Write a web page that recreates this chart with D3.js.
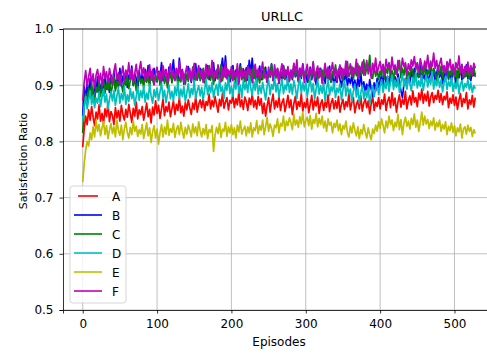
<!DOCTYPE html>
<html>
<head>
<meta charset="utf-8">
<script src="https://cdn.jsdelivr.net/npm/d3@7/dist/d3.min.js"></script>
<style>
  body { margin: 0; background: #fff; }
  svg { display: block; font-family: "DejaVu Sans", sans-serif; }
</style>
</head>
<body>
<div id="chart"></div>
<script>
// episodes are sampled every 2 steps, 0..528
var episodes = d3.range(0, 529, 2);

var seriesNames = ['A', 'B', 'C', 'D', 'E', 'F'];
var seriesColors = ['#ff0000', '#0000ff', '#008000', '#00bfbf', '#bfbf00', '#bf00bf'];

var valuesA = [
    0.790, 0.822, 0.845, 0.830, 0.856, 0.838, 0.862, 0.843, 0.828, 0.852,
    0.840, 0.865, 0.836, 0.850, 0.832, 0.858, 0.844, 0.868, 0.835, 0.853,
    0.846, 0.830, 0.860, 0.842, 0.855, 0.836, 0.864, 0.848, 0.838, 0.857,
    0.843, 0.866, 0.850, 0.834, 0.859, 0.845, 0.870, 0.840, 0.856, 0.848,
    0.862, 0.838, 0.852, 0.868, 0.844, 0.857, 0.833, 0.861, 0.847, 0.872,
    0.850, 0.864, 0.841, 0.858, 0.875, 0.846, 0.862, 0.853, 0.870, 0.844,
    0.858, 0.872, 0.848, 0.866, 0.855, 0.878, 0.851, 0.863, 0.845, 0.869,
    0.856, 0.874, 0.860, 0.848, 0.868, 0.857, 0.880, 0.852, 0.866, 0.874,
    0.860, 0.877, 0.855, 0.871, 0.864, 0.884, 0.858, 0.873, 0.862, 0.880,
    0.866, 0.852, 0.875, 0.863, 0.886, 0.859, 0.870, 0.878, 0.856, 0.873,
    0.868, 0.882, 0.860, 0.876, 0.865, 0.888, 0.862, 0.874, 0.857, 0.879,
    0.871, 0.855, 0.877, 0.866, 0.884, 0.861, 0.873, 0.858, 0.880, 0.864,
    0.876, 0.850, 0.868, 0.845, 0.863, 0.878, 0.852, 0.870, 0.884, 0.858,
    0.872, 0.861, 0.880, 0.855, 0.869, 0.876, 0.853, 0.866, 0.882, 0.860,
    0.874, 0.848, 0.867, 0.880, 0.857, 0.871, 0.862, 0.885, 0.854, 0.869,
    0.860, 0.877, 0.851, 0.866, 0.882, 0.856, 0.872, 0.863, 0.879, 0.850,
    0.867, 0.874, 0.855, 0.870, 0.861, 0.883, 0.853, 0.868, 0.876, 0.858,
    0.872, 0.859, 0.880, 0.852, 0.866, 0.875, 0.857, 0.871, 0.862, 0.885,
    0.856, 0.869, 0.878, 0.851, 0.865, 0.873, 0.858, 0.881, 0.854, 0.868,
    0.876, 0.860, 0.872, 0.849, 0.867, 0.880, 0.855, 0.870, 0.862, 0.878,
    0.858, 0.874, 0.866, 0.884, 0.855, 0.871, 0.879, 0.860, 0.887, 0.864,
    0.877, 0.852, 0.870, 0.883, 0.861, 0.875, 0.866, 0.889, 0.858, 0.873,
    0.881, 0.865, 0.890, 0.870, 0.878, 0.862, 0.886, 0.874, 0.893, 0.868,
    0.884, 0.872, 0.889, 0.863, 0.879, 0.887, 0.869, 0.882, 0.875, 0.891,
    0.870, 0.885, 0.866, 0.880, 0.874, 0.888, 0.860, 0.877, 0.868, 0.883,
    0.864, 0.879, 0.857, 0.873, 0.885, 0.862, 0.876, 0.869, 0.887, 0.858,
    0.874, 0.866, 0.882, 0.861, 0.878
];

var valuesB = [
    0.845, 0.898, 0.872, 0.905, 0.880, 0.912, 0.884, 0.870, 0.902, 0.888,
    0.915, 0.878, 0.896, 0.908, 0.882, 0.920, 0.893, 0.905, 0.887, 0.918,
    0.900, 0.925, 0.894, 0.912, 0.903, 0.930, 0.898, 0.916, 0.908, 0.922,
    0.896, 0.918, 0.910, 0.934, 0.901, 0.920, 0.912, 0.895, 0.926, 0.907,
    0.919, 0.903, 0.928, 0.911, 0.935, 0.902, 0.921, 0.909, 0.930, 0.915,
    0.906, 0.924, 0.913, 0.940, 0.908, 0.919, 0.927, 0.904, 0.932, 0.914,
    0.925, 0.945, 0.910, 0.923, 0.906, 0.948, 0.915, 0.928, 0.902, 0.920,
    0.911, 0.933, 0.918, 0.905, 0.926, 0.914, 0.938, 0.909, 0.922, 0.930,
    0.913, 0.927, 0.904, 0.920, 0.935, 0.910, 0.925, 0.916, 0.940, 0.908,
    0.921, 0.932, 0.912, 0.928, 0.948, 0.918, 0.952, 0.915, 0.926, 0.906,
    0.920, 0.935, 0.911, 0.927, 0.904, 0.922, 0.938, 0.913, 0.929, 0.917,
    0.931, 0.909, 0.944, 0.920, 0.948, 0.912, 0.927, 0.903, 0.919, 0.934,
    0.910, 0.926, 0.915, 0.932, 0.905, 0.923, 0.917, 0.938, 0.908, 0.921,
    0.914, 0.929, 0.903, 0.925, 0.911, 0.935, 0.916, 0.922, 0.900, 0.918,
    0.927, 0.910, 0.933, 0.915, 0.924, 0.906, 0.930, 0.912, 0.938, 0.917,
    0.922, 0.905, 0.919, 0.932, 0.910, 0.926, 0.913, 0.901, 0.924, 0.915,
    0.930, 0.908, 0.917, 0.903, 0.925, 0.912, 0.934, 0.906, 0.920, 0.898,
    0.916, 0.905, 0.928, 0.910, 0.897, 0.919, 0.907, 0.924, 0.900, 0.912,
    0.903, 0.918, 0.895, 0.909, 0.890, 0.913, 0.898, 0.921, 0.893, 0.906,
    0.888, 0.902, 0.885, 0.910, 0.893, 0.880, 0.904, 0.890, 0.912, 0.896,
    0.908, 0.918, 0.900, 0.925, 0.905, 0.916, 0.897, 0.922, 0.910, 0.903,
    0.915, 0.898, 0.920, 0.906, 0.890, 0.878, 0.902, 0.912, 0.895, 0.918,
    0.905, 0.925, 0.912, 0.930, 0.908, 0.921, 0.914, 0.935, 0.903, 0.920,
    0.911, 0.928, 0.916, 0.906, 0.932, 0.913, 0.925, 0.908, 0.920, 0.935,
    0.914, 0.926, 0.903, 0.921, 0.910, 0.938, 0.912, 0.924, 0.907, 0.930,
    0.918, 0.904, 0.925, 0.913, 0.932, 0.909, 0.927, 0.915, 0.936, 0.912,
    0.924, 0.908, 0.930, 0.917, 0.922
];

var valuesC = [
    0.815, 0.862, 0.885, 0.870, 0.895, 0.878, 0.902, 0.884, 0.872, 0.896,
    0.888, 0.905, 0.880, 0.898, 0.910, 0.886, 0.903, 0.892, 0.912, 0.885,
    0.899, 0.915, 0.890, 0.907, 0.896, 0.918, 0.902, 0.888, 0.910, 0.900,
    0.916, 0.894, 0.908, 0.921, 0.899, 0.913, 0.890, 0.906, 0.917, 0.903,
    0.911, 0.896, 0.920, 0.905, 0.915, 0.898, 0.924, 0.909, 0.901, 0.918,
    0.907, 0.922, 0.900, 0.914, 0.926, 0.903, 0.916, 0.895, 0.912, 0.921,
    0.904, 0.918, 0.910, 0.928, 0.899, 0.914, 0.906, 0.923, 0.911, 0.902,
    0.919, 0.907, 0.925, 0.913, 0.932, 0.905, 0.917, 0.910, 0.926, 0.908,
    0.915, 0.930, 0.906, 0.921, 0.912, 0.935, 0.909, 0.924, 0.902, 0.918,
    0.927, 0.911, 0.920, 0.936, 0.908, 0.923, 0.914, 0.929, 0.905, 0.919,
    0.912, 0.928, 0.917, 0.903, 0.924, 0.915, 0.933, 0.910, 0.921, 0.906,
    0.925, 0.913, 0.930, 0.908, 0.919, 0.935, 0.911, 0.926, 0.916, 0.904,
    0.922, 0.910, 0.931, 0.918, 0.906, 0.925, 0.914, 0.937, 0.909, 0.920,
    0.913, 0.928, 0.905, 0.923, 0.916, 0.934, 0.910, 0.926, 0.919, 0.908,
    0.924, 0.912, 0.938, 0.917, 0.927, 0.909, 0.921, 0.915, 0.932, 0.911,
    0.926, 0.918, 0.906, 0.929, 0.914, 0.940, 0.912, 0.923, 0.908, 0.930,
    0.916, 0.927, 0.910, 0.934, 0.919, 0.912, 0.928, 0.905, 0.924, 0.917,
    0.936, 0.913, 0.925, 0.918, 0.931, 0.909, 0.927, 0.920, 0.942, 0.915,
    0.922, 0.933, 0.911, 0.928, 0.917, 0.938, 0.914, 0.930, 0.921, 0.945,
    0.918, 0.931, 0.926, 0.953, 0.920, 0.912, 0.934, 0.916, 0.928, 0.910,
    0.925, 0.917, 0.936, 0.912, 0.929, 0.921, 0.940, 0.915, 0.926, 0.908,
    0.931, 0.919, 0.927, 0.944, 0.913, 0.930, 0.918, 0.937, 0.911, 0.924,
    0.916, 0.933, 0.922, 0.909, 0.929, 0.940, 0.914, 0.925, 0.931, 0.918,
    0.936, 0.912, 0.927, 0.919, 0.943, 0.915, 0.930, 0.922, 0.908, 0.926,
    0.919, 0.934, 0.913, 0.928, 0.921, 0.939, 0.910, 0.925, 0.917, 0.932,
    0.914, 0.927, 0.908, 0.930, 0.920, 0.937, 0.912, 0.924, 0.916, 0.929,
    0.911, 0.926, 0.918, 0.933, 0.915
];

var valuesD = [
    0.835, 0.862, 0.880, 0.858, 0.874, 0.890, 0.866, 0.882, 0.860, 0.877,
    0.868, 0.888, 0.862, 0.879, 0.893, 0.870, 0.884, 0.858, 0.875, 0.889,
    0.872, 0.890, 0.864, 0.881, 0.896, 0.868, 0.885, 0.874, 0.898, 0.866,
    0.883, 0.871, 0.894, 0.876, 0.888, 0.864, 0.880, 0.897, 0.873, 0.890,
    0.878, 0.899, 0.870, 0.886, 0.875, 0.902, 0.881, 0.868, 0.892, 0.879,
    0.895, 0.873, 0.888, 0.904, 0.877, 0.891, 0.869, 0.884, 0.900, 0.876,
    0.889, 0.872, 0.897, 0.882, 0.906, 0.875, 0.893, 0.880, 0.898, 0.871,
    0.886, 0.903, 0.878, 0.894, 0.884, 0.908, 0.876, 0.890, 0.899, 0.881,
    0.896, 0.874, 0.892, 0.910, 0.883, 0.899, 0.887, 0.905, 0.878, 0.893,
    0.901, 0.882, 0.912, 0.889, 0.897, 0.876, 0.904, 0.891, 0.914, 0.885,
    0.898, 0.880, 0.906, 0.893, 0.915, 0.886, 0.900, 0.878, 0.909, 0.892,
    0.904, 0.887, 0.918, 0.895, 0.882, 0.907, 0.891, 0.912, 0.884, 0.899,
    0.886, 0.905, 0.890, 0.874, 0.898, 0.910, 0.883, 0.901, 0.893, 0.915,
    0.888, 0.903, 0.879, 0.896, 0.911, 0.885, 0.900, 0.892, 0.917, 0.887,
    0.902, 0.884, 0.908, 0.895, 0.876, 0.899, 0.913, 0.886, 0.904, 0.890,
    0.907, 0.880, 0.897, 0.912, 0.888, 0.903, 0.875, 0.894, 0.909, 0.884,
    0.899, 0.886, 0.905, 0.872, 0.893, 0.910, 0.882, 0.897, 0.889, 0.906,
    0.878, 0.895, 0.887, 0.903, 0.874, 0.892, 0.908, 0.881, 0.898, 0.885,
    0.893, 0.871, 0.889, 0.902, 0.879, 0.896, 0.868, 0.886, 0.900, 0.876,
    0.890, 0.878, 0.897, 0.866, 0.884, 0.899, 0.880, 0.893, 0.905, 0.883,
    0.898, 0.910, 0.887, 0.904, 0.894, 0.915, 0.889, 0.906, 0.918, 0.892,
    0.909, 0.896, 0.913, 0.887, 0.905, 0.920, 0.898, 0.911, 0.893, 0.916,
    0.903, 0.890, 0.914, 0.900, 0.922, 0.895, 0.908, 0.898, 0.917, 0.891,
    0.906, 0.918, 0.897, 0.912, 0.902, 0.924, 0.893, 0.909, 0.899, 0.915,
    0.896, 0.910, 0.888, 0.904, 0.916, 0.892, 0.907, 0.898, 0.913, 0.889,
    0.905, 0.894, 0.911, 0.885, 0.902, 0.908, 0.890, 0.903, 0.896, 0.910,
    0.892, 0.904, 0.887, 0.899, 0.894
];

var valuesE = [
    0.728, 0.760, 0.785, 0.800, 0.792, 0.815, 0.803, 0.826, 0.808, 0.838,
    0.818, 0.830, 0.810, 0.824, 0.835, 0.812, 0.828, 0.805, 0.820, 0.832,
    0.814, 0.826, 0.808, 0.838, 0.819, 0.811, 0.829, 0.803, 0.822, 0.834,
    0.816, 0.806, 0.825, 0.812, 0.836, 0.818, 0.827, 0.809, 0.821, 0.813,
    0.830, 0.805, 0.819, 0.833, 0.810, 0.824, 0.798, 0.817, 0.828, 0.806,
    0.822, 0.795, 0.815, 0.830, 0.808, 0.826, 0.813, 0.838, 0.811, 0.823,
    0.816, 0.832, 0.807, 0.821, 0.828, 0.812, 0.834, 0.818, 0.806, 0.825,
    0.813, 0.829, 0.820, 0.808, 0.831, 0.815, 0.826, 0.810, 0.835, 0.819,
    0.808, 0.823, 0.812, 0.830, 0.805, 0.821, 0.816, 0.828, 0.782, 0.811,
    0.825, 0.814, 0.832, 0.807, 0.822, 0.818, 0.834, 0.809, 0.826, 0.815,
    0.830, 0.812, 0.824, 0.806, 0.829, 0.817, 0.836, 0.813, 0.821, 0.827,
    0.810, 0.826, 0.815, 0.833, 0.808, 0.824, 0.819, 0.837, 0.814, 0.828,
    0.820, 0.838, 0.812, 0.826, 0.843, 0.818, 0.831, 0.823, 0.809, 0.829,
    0.824, 0.840, 0.815, 0.832, 0.827, 0.845, 0.819, 0.836, 0.828, 0.842,
    0.833, 0.821, 0.848, 0.829, 0.838, 0.825, 0.844, 0.831, 0.852, 0.826,
    0.837, 0.843, 0.828, 0.846, 0.822, 0.839, 0.832, 0.850, 0.826, 0.841,
    0.830, 0.845, 0.824, 0.836, 0.818, 0.840, 0.829, 0.834, 0.815, 0.832,
    0.825, 0.838, 0.819, 0.831, 0.812, 0.828, 0.822, 0.836, 0.816, 0.808,
    0.827, 0.815, 0.833, 0.820, 0.810, 0.826, 0.805, 0.821, 0.813, 0.830,
    0.817, 0.806, 0.824, 0.812, 0.803, 0.822, 0.814, 0.829, 0.818, 0.835,
    0.823, 0.840, 0.828, 0.815, 0.836, 0.824, 0.845, 0.830, 0.838, 0.819,
    0.834, 0.826, 0.848, 0.821, 0.839, 0.812, 0.832, 0.843, 0.827, 0.836,
    0.822, 0.841, 0.830, 0.849, 0.825, 0.838, 0.818, 0.833, 0.852, 0.829,
    0.845, 0.831, 0.839, 0.823, 0.836, 0.828, 0.842, 0.820, 0.834, 0.826,
    0.838, 0.818, 0.830, 0.822, 0.835, 0.812, 0.827, 0.819, 0.833, 0.816,
    0.828, 0.810, 0.824, 0.817, 0.831, 0.806, 0.822, 0.826, 0.813, 0.829,
    0.818, 0.825, 0.809, 0.821, 0.814
];

var valuesF = [
    0.872, 0.905, 0.926, 0.898, 0.915, 0.930, 0.902, 0.920, 0.895, 0.918,
    0.928, 0.906, 0.921, 0.899, 0.933, 0.912, 0.924, 0.904, 0.930, 0.915,
    0.903, 0.925, 0.938, 0.910, 0.922, 0.900, 0.919, 0.934, 0.908, 0.927,
    0.916, 0.940, 0.911, 0.929, 0.905, 0.921, 0.937, 0.913, 0.926, 0.942,
    0.918, 0.931, 0.907, 0.924, 0.915, 0.936, 0.909, 0.928, 0.901, 0.920,
    0.932, 0.912, 0.925, 0.906, 0.935, 0.919, 0.928, 0.903, 0.923, 0.938,
    0.914, 0.927, 0.908, 0.930, 0.917, 0.942, 0.911, 0.926, 0.904, 0.921,
    0.934, 0.913, 0.929, 0.907, 0.924, 0.939, 0.910, 0.922, 0.935, 0.916,
    0.928, 0.905, 0.920, 0.937, 0.912, 0.931, 0.918, 0.944, 0.909, 0.925,
    0.913, 0.936, 0.920, 0.906, 0.929, 0.915, 0.940, 0.911, 0.927, 0.918,
    0.933, 0.908, 0.924, 0.914, 0.938, 0.902, 0.921, 0.930, 0.912, 0.926,
    0.907, 0.935, 0.919, 0.928, 0.904, 0.923, 0.937, 0.915, 0.929, 0.910,
    0.925, 0.941, 0.913, 0.922, 0.906, 0.932, 0.918, 0.927, 0.909, 0.936,
    0.916, 0.930, 0.904, 0.924, 0.938, 0.912, 0.928, 0.919, 0.933, 0.907,
    0.926, 0.914, 0.939, 0.921, 0.945, 0.910, 0.930, 0.917, 0.936, 0.905,
    0.923, 0.937, 0.912, 0.929, 0.918, 0.942, 0.908, 0.925, 0.934, 0.913,
    0.928, 0.903, 0.921, 0.939, 0.915, 0.932, 0.910, 0.926, 0.940, 0.917,
    0.930, 0.908, 0.924, 0.936, 0.912, 0.929, 0.919, 0.943, 0.914, 0.927,
    0.938, 0.916, 0.931, 0.922, 0.946, 0.913, 0.934, 0.925, 0.941, 0.918,
    0.929, 0.944, 0.920, 0.936, 0.912, 0.939, 0.926, 0.948, 0.921, 0.933,
    0.942, 0.924, 0.937, 0.918, 0.946, 0.930, 0.939, 0.922, 0.950, 0.928,
    0.936, 0.919, 0.944, 0.931, 0.925, 0.948, 0.933, 0.940, 0.917, 0.938,
    0.927, 0.945, 0.934, 0.951, 0.929, 0.939, 0.922, 0.947, 0.935, 0.926,
    0.943, 0.931, 0.953, 0.928, 0.940, 0.934, 0.957, 0.930, 0.944, 0.925,
    0.938, 0.948, 0.927, 0.935, 0.920, 0.942, 0.931, 0.946, 0.924, 0.937,
    0.918, 0.940, 0.929, 0.952, 0.923, 0.936, 0.914, 0.933, 0.926, 0.941,
    0.920, 0.935, 0.916, 0.939, 0.930
];

var seriesValues = [valuesA, valuesB, valuesC, valuesD, valuesE, valuesF];

var xTicks = [0, 100, 200, 300, 400, 500];
var yTicks = [0.5, 0.6, 0.7, 0.8, 0.9, 1.0];

var width = 487,
    height = 354,
    margin = {top: 29, right: -8, bottom: 44, left: 63};

var plotW = width - margin.left - margin.right,
    plotH = height - margin.top - margin.bottom;

var svg = d3.select('#chart').append('svg')
    .attr('width', width)
    .attr('height', height);

var g = svg.append('g')
    .attr('transform', 'translate(' + margin.left + ',' + margin.top + ')');

// matplotlib style 5% padding on x
var x = d3.scaleLinear()
    .domain([-26.5, 554.5])
    .range([0, plotW]);

var y = d3.scaleLinear()
    .domain([0.5, 1.0])
    .range([plotH, 0]);

// grid
g.append('g')
    .selectAll('line.vgrid')
    .data(xTicks)
    .enter().append('line')
    .attr('x1', function(d) { return x(d); })
    .attr('x2', function(d) { return x(d); })
    .attr('y1', 0)
    .attr('y2', plotH)
    .attr('stroke', '#b0b0b0')
    .attr('stroke-width', 0.8);

g.append('g')
    .selectAll('line.hgrid')
    .data(yTicks)
    .enter().append('line')
    .attr('x1', 0)
    .attr('x2', plotW)
    .attr('y1', function(d) { return y(d); })
    .attr('y2', function(d) { return y(d); })
    .attr('stroke', '#b0b0b0')
    .attr('stroke-width', 0.8);

// lines
var line = d3.line()
    .x(function(d, i) { return x(episodes[i]); })
    .y(function(d) { return y(d); });

g.append('g')
    .selectAll('path')
    .data(seriesValues)
    .enter().append('path')
    .attr('d', function(d) { return line(d); })
    .attr('fill', 'none')
    .attr('stroke', function(d, i) { return seriesColors[i]; })
    .attr('stroke-width', 1.7)
    .attr('stroke-linejoin', 'round');

// axes
var xAxis = d3.axisBottom(x).tickValues(xTicks).tickSize(3.5).tickPadding(6)
    .tickFormat(d3.format('d'));
var yAxis = d3.axisLeft(y).tickValues(yTicks).tickSize(3.5).tickPadding(6)
    .tickFormat(d3.format('.1f'));

var xg = g.append('g')
    .attr('transform', 'translate(0,' + plotH + ')')
    .call(xAxis);
var yg = g.append('g').call(yAxis);

[xg, yg].forEach(function(ax) {
    ax.select('.domain').attr('stroke', '#000').attr('stroke-width', 0.8);
    ax.selectAll('.tick line').attr('stroke', '#000').attr('stroke-width', 0.8);
    ax.selectAll('.tick text')
        .attr('fill', '#000')
        .style('font-size', '12px')
        .style('font-family', '"DejaVu Sans", sans-serif');
});

// top spine
g.append('line')
    .attr('x1', 0).attr('x2', plotW)
    .attr('y1', 0).attr('y2', 0)
    .attr('stroke', '#000')
    .attr('stroke-width', 0.8);

// title & labels
svg.append('text')
    .attr('x', 282)
    .attr('y', 21)
    .attr('text-anchor', 'middle')
    .style('font-size', '13px')
    .text('URLLC');

svg.append('text')
    .attr('x', 279)
    .attr('y', 346)
    .attr('text-anchor', 'middle')
    .style('font-size', '12px')
    .text('Episodes');

svg.append('text')
    .attr('transform', 'translate(26.5,161) rotate(-90)')
    .attr('text-anchor', 'middle')
    .style('font-size', '11px')
    .text('Satisfaction Ratio');

// legend
var legend = g.append('g')
    .attr('transform', 'translate(7,' + (186 - margin.top) + ')');

legend.append('rect')
    .attr('width', 56)
    .attr('height', 117)
    .attr('rx', 3)
    .attr('ry', 3)
    .attr('fill', 'rgba(255,255,255,0.8)')
    .attr('stroke', '#cccccc')
    .attr('stroke-width', 0.8);

var items = legend.selectAll('g.item')
    .data(seriesNames)
    .enter().append('g')
    .attr('transform', function(d, i) { return 'translate(0,' + (10 + i * 19) + ')'; });

items.append('line')
    .attr('x1', function(d, i) { return i === 0 ? 8 : 4; })
    .attr('x2', function(d, i) { return i === 0 ? 28 : 32; })
    .attr('y1', 0)
    .attr('y2', 0)
    .attr('stroke', function(d, i) { return seriesColors[i]; })
    .attr('stroke-width', 1.6);

items.append('text')
    .attr('x', 42)
    .attr('y', 4.5)
    .style('font-size', '12px')
    .text(function(d) { return d; });
</script>
</body>
</html>
